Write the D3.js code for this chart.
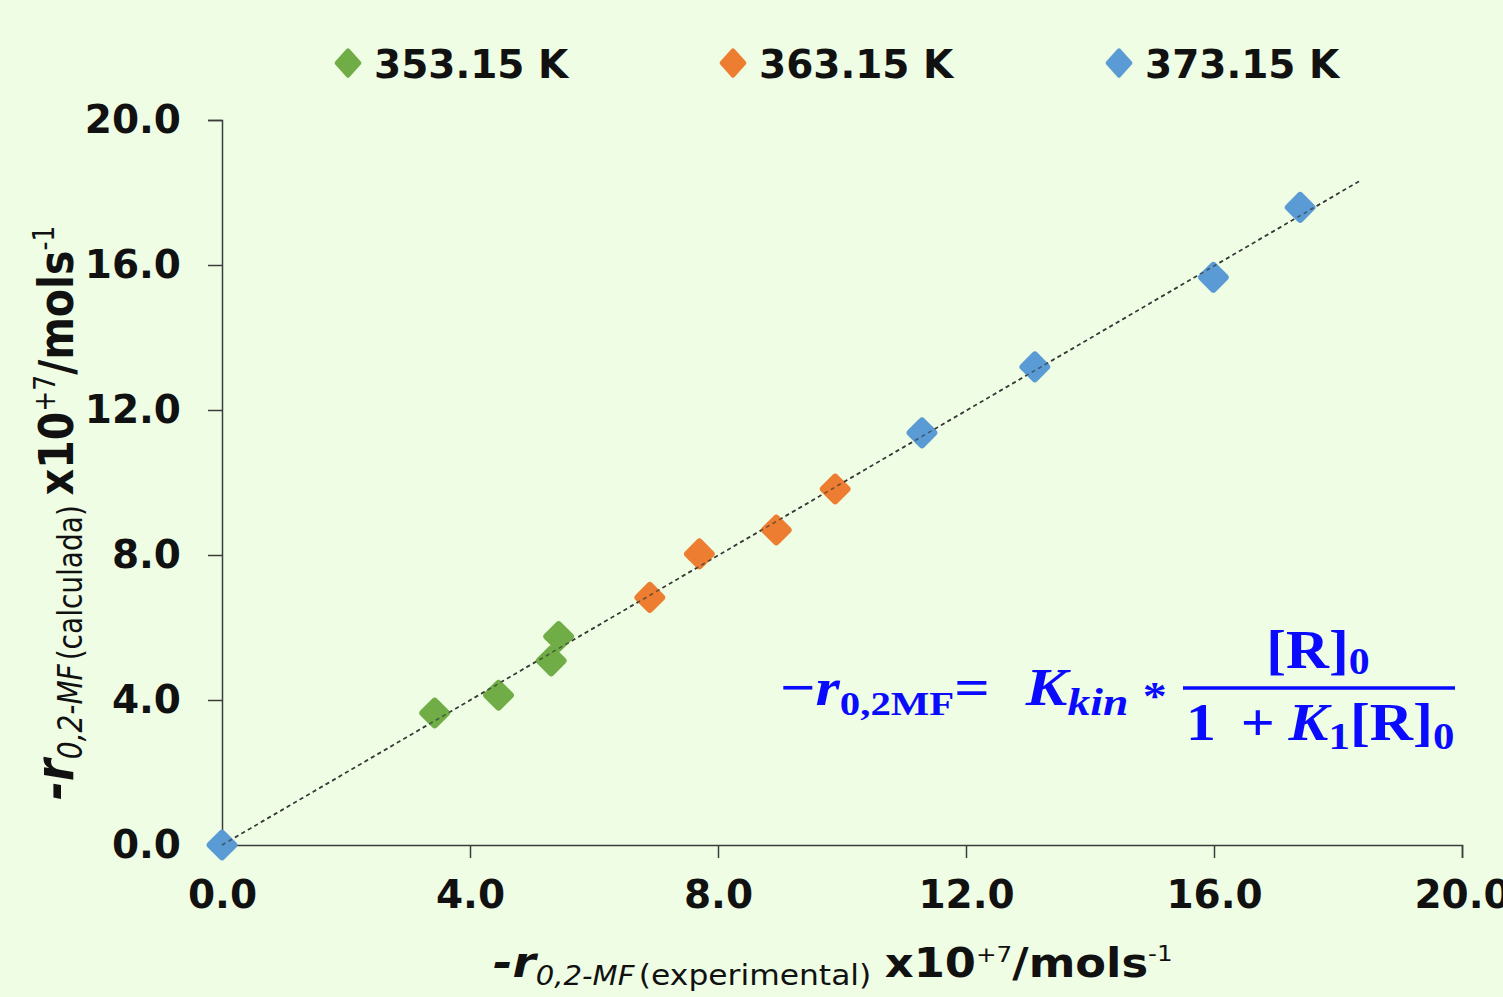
<!DOCTYPE html>
<html><head><meta charset="utf-8">
<script src="https://cdn.jsdelivr.net/npm/d3@7"></script>
<style>html,body{margin:0;padding:0;background:#eefde3;} svg{display:block}</style>
</head><body><svg id="c" width="1503" height="997"></svg>
<script>
// ---- data ----
const seriesNames = ["353.15 K", "363.15 K", "373.15 K"];
const seriesColors = ["#70ad47", "#ed7d31", "#5b9bd5"];
const x353 = [3.43, 4.46, 5.31, 5.43];
const y353 = [3.64, 4.13, 5.08, 5.75];
const x363 = [6.90, 7.70, 8.94, 9.89];
const y363 = [6.83, 8.03, 8.69, 9.82];
const x373 = [0.0, 11.29, 13.11, 15.99, 17.39];
const y373 = [0.0, 11.37, 13.19, 15.66, 17.59];
const trendX = [0, 18.34];
const trendY = [0, 18.31];
const xTicks = [0, 4, 8, 12, 16, 20];
const yTicks = [0, 4, 8, 12, 16, 20];

const series = [
  {name: seriesNames[0], color: seriesColors[0], xs: x353, ys: y353},
  {name: seriesNames[1], color: seriesColors[1], xs: x363, ys: y363},
  {name: seriesNames[2], color: seriesColors[2], xs: x373, ys: y373}
];

const svg = d3.select("#c");
const FONT = "'DejaVu Sans', Verdana, sans-serif";
svg.append("rect").attr("width", 1503).attr("height", 997).attr("fill", "#eefde3");

const x = d3.scaleLinear().domain([0, 20]).range([222, 1462]);
const y = d3.scaleLinear().domain([0, 20]).range([845, 120]);

// axes
const gx = svg.append("g").attr("transform", `translate(0,${y(0)})`)
  .call(d3.axisBottom(x).tickValues(xTicks).tickFormat(d3.format(".1f"))
    .tickSizeOuter(0).tickSize(13).tickPadding(22));
const gy = svg.append("g").attr("transform", `translate(${x(0)},0)`)
  .call(d3.axisLeft(y).tickValues(yTicks).tickFormat(d3.format(".1f"))
    .tickSizeOuter(0).tickSize(14).tickPadding(27));
[gx, gy].forEach(g => {
  g.select(".domain").attr("stroke", "#3c3c3c").attr("stroke-width", 1.5);
  g.selectAll(".tick line").attr("stroke", "#3c3c3c").attr("stroke-width", 1.5);
  g.selectAll(".tick text").attr("fill", "#111").style("font-family", FONT)
    .style("font-weight", "bold").style("font-size", "39px");
});

// trendline (under markers)
svg.append("line")
  .attr("x1", x(trendX[0])).attr("y1", y(trendY[0]))
  .attr("x2", x(trendX[1])).attr("y2", y(trendY[1]))
  .attr("stroke", "#444").attr("stroke-width", 1.6).attr("stroke-dasharray", "4,3.5");

// points
const diamond = d3.symbol().type(d3.symbolSquare).size(280);
series.forEach(s => {
  svg.append("g").selectAll("path").data(s.xs.map((v, i) => [v, s.ys[i]])).join("path")
    .attr("d", diamond)
    .attr("transform", d => `translate(${x(d[0])},${y(d[1])}) rotate(45)`)
    .attr("fill", s.color).attr("stroke", s.color)
    .attr("stroke-width", 7).attr("stroke-linejoin", "round");
});

// dashes visible over the markers, as in the reference
svg.append("line")
  .attr("x1", x(trendX[0])).attr("y1", y(trendY[0]))
  .attr("x2", x(trendX[1])).attr("y2", y(trendY[1]))
  .attr("stroke", "#333").attr("stroke-opacity", 0.65).attr("stroke-width", 1.6).attr("stroke-dasharray", "4,3.5");

// legend
const legX = [348, 733, 1119];
const leg = svg.append("g");
series.forEach((s, i) => {
  leg.append("path").attr("d", d3.symbol().type(d3.symbolSquare).size(290)())
    .attr("transform", `translate(${legX[i]},63) scale(0.95,1.05) rotate(45)`)
    .attr("fill", s.color).attr("stroke", s.color).attr("stroke-width", 4).attr("stroke-linejoin", "round");
  leg.append("text").attr("x", legX[i] + 26).attr("y", 78)
    .style("font-family", FONT).style("font-weight", "bold").style("font-size", "39px")
    .attr("fill", "#111").text(s.name);
});

// axis titles
function axisTitle(g, word, sz) {
  const t = g.append("text").attr("fill", "#111").style("font-family", FONT);
  t.append("tspan").style("font-size", sz.r + "px").style("font-weight", "bold").style("font-style", "italic").text("-r");
  t.append("tspan").style("font-size", sz.sub + "px").style("font-style", "italic").attr("dy", 8).text("0,2-MF");
  t.append("tspan").style("font-size", sz.word + "px").attr("dx", 4).text(word);
  t.append("tspan").style("font-size", sz.big + "px").style("font-weight", "bold").attr("dy", -8).attr("dx", sz.gap).text("x10");
  t.append("tspan").style("font-size", sz.sup + "px").attr("dy", -15).text("+7");
  t.append("tspan").style("font-size", sz.big + "px").style("font-weight", "bold").attr("dy", 15).text("/mols");
  t.append("tspan").style("font-size", sz.sup + "px").attr("dy", -16).text("-1");
  return t;
}
axisTitle(svg.append("g").attr("transform", "translate(493,977) scale(1.12,1)"), "(experimental)",
  {r: 42, sub: 26, word: 28, big: 40, sup: 22, gap: 12});
axisTitle(svg.append("g").attr("transform", "translate(73,800) scale(1.18,1) rotate(-90)"), "(calculada)",
  {r: 45, sub: 28, word: 28, big: 41, sup: 25, gap: 10});

// formula
const BLUE = "#0a0aff";
const SERIF = "'Liberation Serif', 'DejaVu Serif', serif";
const f = svg.append("g").attr("fill", BLUE).style("font-family", SERIF).style("font-weight", "bold");
const lhs = f.append("text").attr("transform", "translate(780,705) scale(1.2,1)").style("font-size", "52px");
lhs.append("tspan").text("\u2212");
lhs.append("tspan").style("font-style", "italic").text("r");
lhs.append("tspan").style("font-size", "34px").attr("dy", 10).text("0,2MF");
lhs.append("tspan").attr("dy", -10).text("=");
lhs.append("tspan").attr("dx", 30).style("font-style", "italic").text("K");
lhs.append("tspan").style("font-size", "38px").style("font-style", "italic").attr("dy", 10).text("kin");
lhs.append("tspan").style("font-size", "40px").attr("dy", -6).attr("dx", 12).text("*");
f.append("line").attr("x1", 1183).attr("x2", 1455).attr("y1", 688).attr("y2", 688)
  .attr("stroke", BLUE).attr("stroke-width", 3.5);
const num = f.append("text").attr("transform", "translate(1318,668) scale(1.1,1)").attr("text-anchor", "middle").style("font-size", "54px");
num.append("tspan").text("[R]");
num.append("tspan").style("font-size", "38px").attr("dy", 6).text("0");
const den = f.append("text").attr("transform", "translate(1186,740) scale(1.13,1)").style("font-size", "53px");
den.append("tspan").text("1");
den.append("tspan").attr("dx", 22).text("+");
den.append("tspan").attr("dx", 12).style("font-style", "italic").text("K");
den.append("tspan").style("font-size", "38px").attr("dy", 9).text("1");
den.append("tspan").attr("dy", -9).text("[R]");
den.append("tspan").style("font-size", "38px").attr("dy", 9).text("0");
</script>
</body></html>
